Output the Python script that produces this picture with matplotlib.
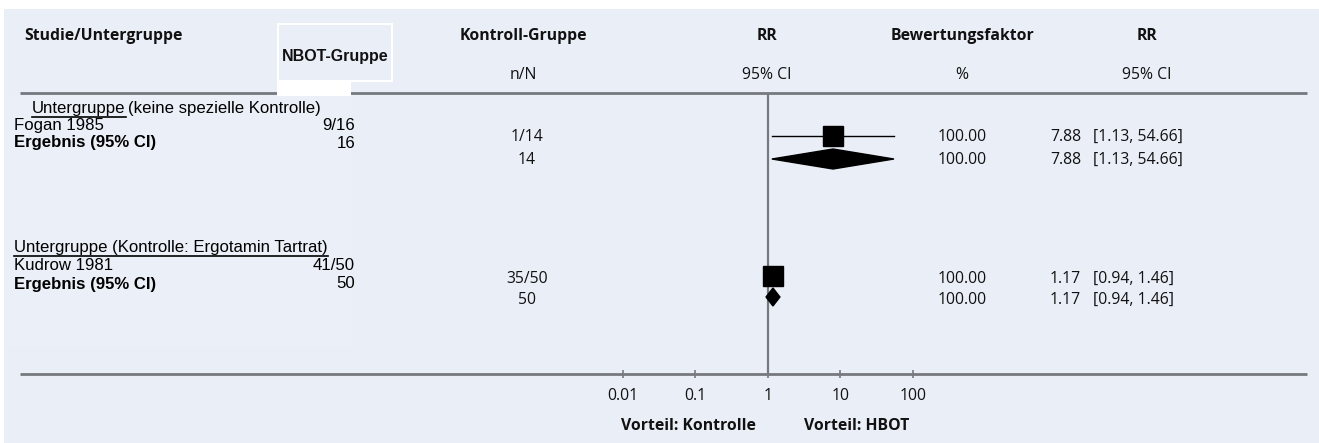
import matplotlib

matplotlib.use("Agg")
import matplotlib.pyplot as plt
from matplotlib.patches import Rectangle, Polygon

# data
subgroups = ["Untergruppe (keine spezielle Kontrolle)", "Untergruppe (Kontrolle: Ergotamin Tartrat)"]
studies = ["Fogan 1985", "Kudrow 1981"]
hbot_events = [9, 41]
hbot_total = [16, 50]
ctrl_events = [1, 35]
ctrl_total = [14, 50]
rr = [7.88, 1.17]
ci_low = [1.13, 0.94]
ci_high = [54.66, 1.46]
weights = [100.00, 100.00]
pooled_rr = [7.88, 1.17]
pooled_low = [1.13, 0.94]
pooled_high = [54.66, 1.46]
pooled_weight = [100.00, 100.00]
x_ticks = [0.01, 0.1, 1, 10, 100]
x_tick_labels = ["0.01", "0.1", "1", "10", "100"]

W, H = 1319, 443
BG = "#eaeef7"
LINE = "#76797e"
HUM = "Open Sans"
ARIAL = "Liberation Sans"
FS = 11.3

fig = plt.figure(figsize=(W / 100, H / 100), dpi=100)
fig.patch.set_facecolor("white")

# overlay axes in pixel coordinates
ov = fig.add_axes([0, 0, 1, 1])
ov.set_xlim(0, W)
ov.set_ylim(H, 0)
ov.axis("off")

ov.add_patch(Rectangle((4, 9), W - 4, H - 9, facecolor=BG, edgecolor="none", zorder=0))
ov.add_patch(Rectangle((4, 96), 347, 250, facecolor="#ebeff8", edgecolor="none", zorder=0.5))

# header
hdr = dict(family=HUM, fontsize=FS, fontweight="bold", va="center", color="#111111")
ov.text(24, 36, "Studie/Untergruppe", ha="left", **hdr)
ov.text(523, 36, "Kontroll-Gruppe", ha="center", **hdr)
ov.text(767, 36, "RR", ha="center", **hdr)
ov.text(962, 36, "Bewertungsfaktor", ha="center", **hdr)
ov.text(1147, 36, "RR", ha="center", **hdr)
sub = dict(family=HUM, fontsize=FS, va="center", color="#111111")
ov.text(523, 75, "n/N", ha="center", **sub)
ov.text(767, 75, "95% CI", ha="center", **sub)
ov.text(962, 75, "%", ha="center", **sub)
ov.text(1147, 75, "95% CI", ha="center", **sub)

# header / bottom rules
ov.plot([20, 1307], [93, 93], color=LINE, lw=2, zorder=2, solid_capstyle="butt")
ov.plot([20, 1307], [374, 374], color=LINE, lw=2, zorder=2, solid_capstyle="butt")

# NBOT box
ov.add_patch(Rectangle((278, 24), 114, 57, facecolor="none", edgecolor="white", lw=1.5, zorder=3))
ov.add_patch(Rectangle((277, 81), 74, 15, facecolor="white", edgecolor="none", zorder=3))
ov.text(335, 56, "NBOT-Gruppe", ha="center", va="center", family=ARIAL, fontsize=11.5,
        fontweight="bold", color="#111111", zorder=4)

# forest axes: x=1 at px 768, 72.5 px per decade
fx0, fx1 = 20, 1307
px_dec = 72.5
fy0, fy1 = 93, 374
fa = fig.add_axes([fx0 / W, 1 - fy1 / H, (fx1 - fx0) / W, (fy1 - fy0) / H])
fa.set_xscale("log")
fa.set_xlim(10 ** (-(768 - fx0) / px_dec), 10 ** ((fx1 - 768) / px_dec))
fa.set_ylim(fy1, fy0)
fa.patch.set_alpha(0)
for s in fa.spines.values():
    s.set_visible(False)
fa.set_yticks([])
fa.set_xticks(x_ticks)
fa.set_xticklabels(x_tick_labels)
fa.minorticks_off()
fa.tick_params(axis="x", direction="inout", length=6, width=1.2, color=LINE, pad=7,
               labelsize=FS, labelcolor="#111111")
for lab in fa.get_xticklabels():
    lab.set_family(HUM)
fa.axvline(1, color=LINE, lw=1.6, zorder=1)

row_y = [136, 276]
pool_y = [159, 297]
half_h = [10, 9]
text_y = [137, 279]
ptext_y = [160, 300]
left_sub_y = [108, 247]
left_study_y = [125, 265]
left_pool_y = [143, 284]

fig.canvas.draw()
rend = fig.canvas.get_renderer()
inv = ov.transData.inverted()


def right_px(txt):
    bb = txt.get_window_extent(renderer=rend)
    return inv.transform((bb.x1, bb.y1))[0]


a = dict(family=ARIAL, fontsize=12.1, va="center", color="black")
for i in range(2):
    fa.plot([ci_low[i], ci_high[i]], [row_y[i], row_y[i]], color="black", lw=1, zorder=3)
    fa.plot([rr[i]], [row_y[i]], marker="s", ms=14, color="black", zorder=4)
    fa.add_patch(Polygon([(pooled_low[i], pool_y[i]), (pooled_rr[i], pool_y[i] - half_h[i]),
                          (pooled_high[i], pool_y[i]), (pooled_rr[i], pool_y[i] + half_h[i])],
                         closed=True, facecolor="black", edgecolor="black", zorder=4))

    # left block (Arial)
    if i == 0:
        first, rest = subgroups[i].split(" ", 1)
        t0 = ov.text(32, left_sub_y[i], first, ha="left", **a)
        x_end = right_px(t0)
        ov.plot([32, x_end], [left_sub_y[i] + 9, left_sub_y[i] + 9], color="black", lw=1.2)
        ov.text(x_end + 3, left_sub_y[i], rest, ha="left", **a)
    else:
        t0 = ov.text(14, left_sub_y[i], subgroups[i], ha="left", **a)
        x_end = right_px(t0)
        ov.plot([14, x_end], [left_sub_y[i] + 9, left_sub_y[i] + 9], color="black", lw=1.2)
    ov.text(14, left_study_y[i], studies[i], ha="left", **a)
    ov.text(14, left_pool_y[i], "Ergebnis (95% CI)", ha="left", fontweight="bold", **a)
    ov.text(355, left_study_y[i], f"{hbot_events[i]}/{hbot_total[i]}", ha="right", **a)
    ov.text(355, left_pool_y[i], f"{hbot_total[i]}", ha="right", **a)

    t = dict(family=HUM, fontsize=FS, va="center", color="#111111")
    ov.text(527, text_y[i], f"{ctrl_events[i]}/{ctrl_total[i]}", ha="center", **t)
    ov.text(527, ptext_y[i], f"{ctrl_total[i]}", ha="center", **t)
    ov.text(962, text_y[i], f"{weights[i]:.2f}", ha="center", **t)
    ov.text(962, ptext_y[i], f"{pooled_weight[i]:.2f}", ha="center", **t)
    ov.text(1081, text_y[i], f"{rr[i]:.2f}", ha="right", **t)
    ov.text(1093, text_y[i], f"[{ci_low[i]:.2f}, {ci_high[i]:.2f}]", ha="left", **t)
    ov.text(1081, ptext_y[i], f"{pooled_rr[i]:.2f}", ha="right", **t)
    ov.text(1093, ptext_y[i], f"[{pooled_low[i]:.2f}, {pooled_high[i]:.2f}]", ha="left", **t)

ov.text(688, 426, "Vorteil: Kontrolle", ha="center", va="center", family=HUM, fontsize=FS,
        fontweight="bold", color="#111111")
ov.text(857, 426, "Vorteil: HBOT", ha="center", va="center", family=HUM, fontsize=FS,
        fontweight="bold", color="#111111")

fig.savefig("out.png", dpi=100)
